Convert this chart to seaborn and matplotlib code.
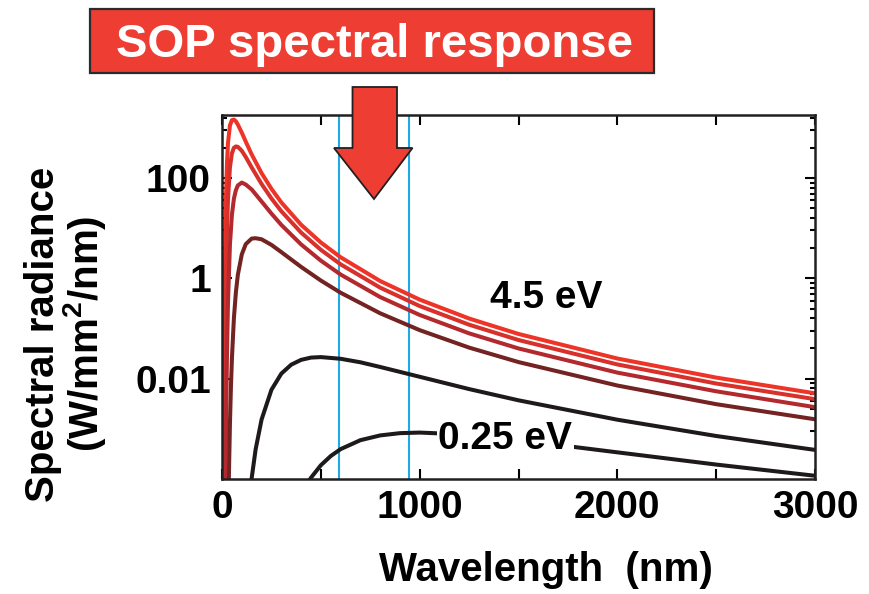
import numpy as np
import pandas as pd
import matplotlib
matplotlib.use('Agg')
import matplotlib.pyplot as plt
from matplotlib.patches import Polygon, Rectangle
from matplotlib.ticker import FixedLocator, FixedFormatter, MultipleLocator, NullFormatter
import seaborn as sns

sns.set_theme(style='ticks')
plt.rcParams['font.family'] = ['Liberation Sans', 'DejaVu Sans']
plt.rcParams['font.weight'] = 'bold'
plt.rcParams['text.color'] = 'black'
plt.rcParams['axes.labelcolor'] = 'black'
plt.rcParams['xtick.color'] = 'black'
plt.rcParams['ytick.color'] = 'black'
plt.rcParams['mathtext.fontset'] = 'custom'
plt.rcParams['mathtext.rm'] = 'Liberation Sans:bold'
plt.rcParams['mathtext.it'] = 'Liberation Sans:bold'
plt.rcParams['mathtext.bf'] = 'Liberation Sans:bold'

# blackbody curves, wavelength in nm, radiance in W/mm2/nm
wl_45 = [8, 10, 12, 15, 20, 25, 30, 40, 50, 60, 70, 80, 100, 120, 150, 200, 250, 300,
         400, 500, 600, 800, 1000, 1250, 1500, 2000, 2500, 3000]
rad_45 = [4e-6, 1.3e-3, 0.051, 1.65, 38, 195, 490, 1120, 1420, 1460, 1350, 1160, 800, 530,
          295, 125, 60.7, 32.6, 11.7, 5.18, 2.63, 0.883, 0.376, 0.158, 0.0778, 0.0252,
          0.0105, 0.0051]

wl_35 = [10, 12, 15, 20, 25, 30, 40, 50, 60, 70, 80, 100, 120, 150, 200, 250, 300,
         400, 500, 600, 800, 1000, 1250, 1500, 2000, 2500, 3000]
rad_35 = [5e-7, 7.2e-5, 8.8e-3, 0.76, 8.5, 36, 163, 310, 400, 425, 418, 348, 262, 162,
          76, 39, 21.7, 8.17, 3.70, 1.90, 0.652, 0.280, 0.119, 0.0589, 0.0192, 0.0080,
          0.0039]

wl_25 = [18, 20, 22, 25, 30, 40, 50, 60, 70, 80, 100, 120, 150, 200, 250, 300, 400,
         500, 600, 800, 1000, 1250, 1500, 2000, 2500, 3000]
rad_25 = [6.8e-5, 6.3e-4, 3.8e-3, 0.0295, 0.32, 4.7, 18.5, 38.5, 57, 71, 81, 74, 59,
          34, 19.5, 11.6, 4.74, 2.25, 1.19, 0.423, 0.186, 0.080, 0.040, 0.0132, 0.0056,
          0.0027]

wl_15 = [33, 35, 40, 45, 50, 60, 70, 80, 100, 120, 150, 170, 200, 250, 300, 400, 500,
         600, 800, 1000, 1250, 1500, 2000, 2500, 3000]
rad_15 = [4e-5, 1.27e-4, 1.24e-3, 6.8e-3, 0.025, 0.159, 0.52, 1.17, 3.0, 4.8, 6.2, 6.3,
          6.0, 4.64, 3.33, 1.69, 0.903, 0.516, 0.201, 0.0927, 0.0416, 0.0214, 0.0073,
          0.0031, 0.00155]

wl_05 = [145, 150, 170, 200, 250, 300, 350, 400, 450, 500, 600, 700, 800, 1000, 1250,
         1500, 2000, 2500, 3000]
rad_05 = [7e-5, 1.04e-4, 3.9e-4, 1.53e-3, 6.0e-3, 0.0126, 0.019, 0.0237, 0.0263, 0.0269,
          0.0249, 0.0212, 0.0171, 0.0109, 0.0062, 0.0037, 0.00152, 7.2e-4, 3.8e-4]

wl_025 = [430, 450, 500, 550, 600, 700, 800, 900, 1000, 1200, 1500, 2000, 2500, 3000]
rad_025 = [8e-5, 1.06e-4, 1.88e-4, 2.87e-4, 3.94e-4, 5.94e-4, 7.39e-4, 8.2e-4, 8.42e-4,
           7.81e-4, 5.97e-4, 3.4e-4, 1.94e-4, 1.16e-4]

temps = ['4.5 eV', '3.5 eV', '2.5 eV', '1.5 eV', '0.5 eV', '0.25 eV']
colors = ['#ee3427', '#d8302b', '#b3292e', '#722322', '#1e1a1a', '#1e1a1a']

# SOP spectral response band edges (nm)
sop_band = [590, 945]

curves = [(wl_45, rad_45), (wl_35, rad_35), (wl_25, rad_25),
          (wl_15, rad_15), (wl_05, rad_05), (wl_025, rad_025)]
df = pd.concat([pd.DataFrame({'wavelength': w, 'radiance': r, 'temp': t})
                for t, (w, r) in zip(temps, curves)], ignore_index=True)
palette = dict(zip(temps, colors))

fig, ax = plt.subplots(figsize=(8.69, 5.94), dpi=100)
fig.subplots_adjust(left=0.2555, right=0.9379, bottom=0.1936, top=0.8064)

for x in sop_band:
    ax.axvline(x, color='#1eaae6', lw=1.5, zorder=1)

sns.lineplot(data=df, x='wavelength', y='radiance', hue='temp', palette=palette,
             lw=2.9, legend=False, estimator=None, sort=False, ax=ax, zorder=2)

ax.set_yscale('log')
ax.set_xlim(0, 3000)
ax.set_ylim(1e-4, 1.8e3)

# ticks: major every two decades, minor ticks igor-style in between
ax.xaxis.set_major_locator(MultipleLocator(1000))
ax.xaxis.set_minor_locator(MultipleLocator(500))
majors = [1e-4, 1e-2, 1, 1e2, 1e4]
ax.yaxis.set_major_locator(FixedLocator([0.01, 1, 100]))
ax.yaxis.set_major_formatter(FixedFormatter(['0.01', '1', '100']))
ax.yaxis.set_minor_locator(FixedLocator([m * (k / 10) ** 2 for m in majors for k in range(2, 10)]))
ax.yaxis.set_minor_formatter(NullFormatter())
ax.tick_params(which='both', direction='in', top=True, right=True,
               color='black', labelcolor='black', width=1.5, labelsize=28, pad=8)
ax.tick_params(which='major', length=7)
ax.tick_params(axis='y', which='minor', length=3.5)
ax.tick_params(axis='x', which='minor', length=7)
for s in ax.spines.values():
    s.set_linewidth(1.8)
    s.set_color('#231f20')

ax.set_xlabel('Wavelength  (nm)', fontsize=29, fontweight='bold')
ax.xaxis.set_label_coords(0.546, -0.25)
ax.xaxis.label.set_va('center')
ax.set_ylabel('Spectral radiance\n(W/mm$^2$/nm)', fontsize=29, fontweight='bold',
              linespacing=0.95)
ax.yaxis.set_label_coords(-0.263, 0.398)
ax.yaxis.label.set_va('center')

ax.text(1639, 0.41, '4.5 eV', fontsize=28, fontweight='bold', ha='center', va='center')
ax.text(1432, 6.2e-4, '0.25 eV', fontsize=28, fontweight='bold', ha='center', va='center',
        bbox=dict(fc='white', ec='none', pad=1), zorder=3)

# title box and arrow (figure pixel positions)
W, H = 869, 594
fig.add_artist(Rectangle((90 / W, 1 - 73 / H), 564 / W, 64 / H, transform=fig.transFigure,
                         fc='#ee3e33', ec='#2b2b2b', lw=1.6, zorder=5))
fig.text(374 / W, 1 - 57 / H, 'SOP spectral response', color='white', fontsize=34,
         fontweight='bold', ha='center', va='baseline', zorder=6)
arrow_px = [(352.5, 87), (352.5, 148), (334, 148), (374, 199), (412.5, 148), (397, 148), (397, 87)]
fig.add_artist(Polygon([(x / W, 1 - y / H) for x, y in arrow_px], closed=True,
                       transform=fig.transFigure, fc='#ee3e33', ec='#231f20', lw=1.3, zorder=5))

fig.savefig('out.png', dpi=100)
